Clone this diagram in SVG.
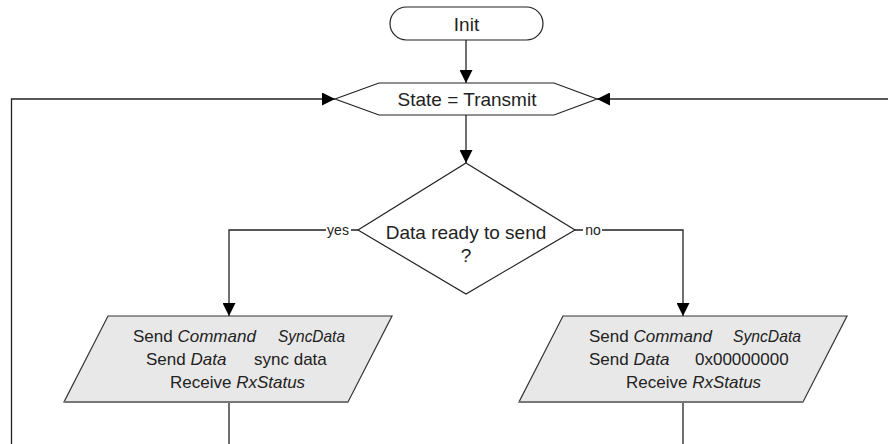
<svg xmlns="http://www.w3.org/2000/svg" width="888" height="444" viewBox="0 0 888 444">
<defs>
<marker id="arr" viewBox="0 0 13 13" refX="13" refY="6.5" markerWidth="13" markerHeight="13" markerUnits="userSpaceOnUse" orient="auto">
<path d="M0,0 L13,6.5 L0,13 Z" fill="#000"/>
</marker>
<style>
.sh{fill:#fff;stroke:#222;stroke-width:1.2}
.io{fill:#e8e8e8;stroke:#333;stroke-width:1.2}
.bt{stroke:#777;stroke-width:2;fill:none}
.ln{fill:none;stroke:#222;stroke-width:1.3}
.t{font-family:"Liberation Sans",Arial,sans-serif;fill:#222}
.big{font-size:19px}
.mid{font-size:17px}
.sm{font-size:14px}
.it{font-style:italic}
</style>
</defs>
<rect width="888" height="444" fill="#fff"/>
<g id="connectors">
<path class="ln" d="M466,40 V83" marker-end="url(#arr)"/>
<path class="ln" d="M11.5,444 V99 H335" marker-end="url(#arr)"/>
<path class="ln" d="M888,99 H597" marker-end="url(#arr)"/>
<path class="ln" d="M466,115 V163" marker-end="url(#arr)"/>
<path class="ln" d="M358,230 H229 V316" marker-end="url(#arr)"/>
<path class="ln" d="M575,230 H683 V316" marker-end="url(#arr)"/>
<path class="ln" d="M229,402 V444"/>
<path class="ln" d="M683,402 V444"/>
<rect x="326" y="222" width="25" height="14" fill="#fff"/>
<text class="t sm" x="338" y="235" text-anchor="middle">yes</text>
<rect x="583" y="222" width="19" height="14" fill="#fff"/>
<text class="t sm" x="593" y="235" text-anchor="middle">no</text>
</g>
<g id="init">
<rect class="sh" x="390" y="7" width="153" height="33" rx="16.5"/>
<text class="t big" x="466.5" y="31" text-anchor="middle">Init</text>
</g>
<g id="state">
<polygon class="sh" points="335,99 379,83 554,83 597,99 554,115 379,115"/>
<text class="t big" x="467" y="106" text-anchor="middle">State = Transmit</text>
</g>
<g id="decision">
<polygon class="sh" points="466,163 575,230 466,294 358,230"/>
<text class="t big" x="466" y="239" text-anchor="middle">Data ready to send</text>
<text class="t big" x="466" y="262" text-anchor="middle">?</text>
</g>
<g id="send-sync">
<polygon class="io" points="108,316 392,316 348,402 64,402"/>
<path class="bt" d="M64,402 H348"/>
<text class="t mid" x="133" y="342">Send <tspan class="it">Command</tspan></text>
<text class="t mid it" x="278" y="342" textLength="67" lengthAdjust="spacingAndGlyphs">SyncData</text>
<text class="t mid" x="146" y="365">Send <tspan class="it">Data</tspan></text>
<text class="t mid" x="254" y="365">sync data</text>
<text class="t mid" x="170" y="388">Receive <tspan class="it">RxStatus</tspan></text>
</g>
<g id="send-zero">
<polygon class="io" points="563,316 847,316 803,402 519,402"/>
<path class="bt" d="M519,402 H803"/>
<text class="t mid" x="589" y="342">Send <tspan class="it">Command</tspan></text>
<text class="t mid it" x="733" y="342" textLength="68" lengthAdjust="spacingAndGlyphs">SyncData</text>
<text class="t mid" x="589" y="365">Send <tspan class="it">Data</tspan></text>
<text class="t mid" x="695" y="365">0x00000000</text>
<text class="t mid" x="626" y="388">Receive <tspan class="it">RxStatus</tspan></text>
</g>
</svg>
